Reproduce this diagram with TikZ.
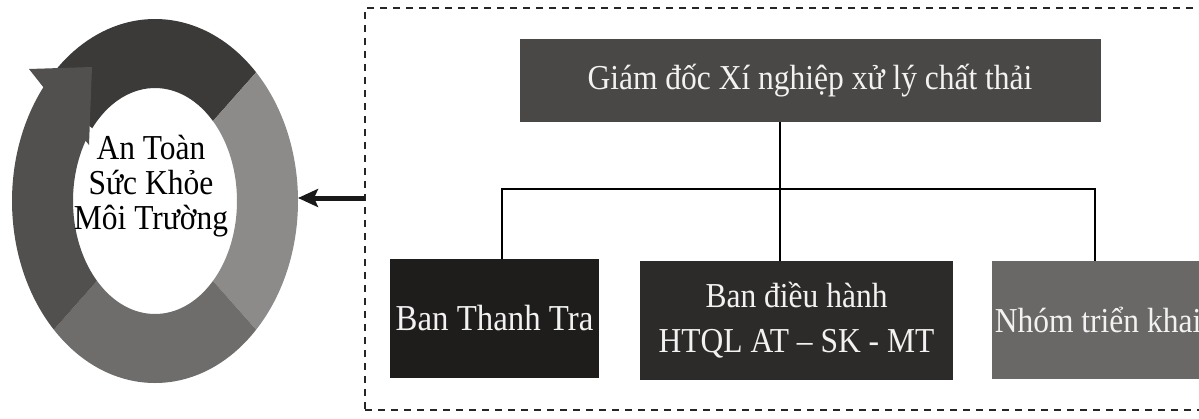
\documentclass[tikz,border=0pt]{standalone}
\usepackage{fontspec}
\setmainfont{Liberation Serif}
\newfontfamily\condfont{Liberation Serif}[FakeStretch=0.9]
\usetikzlibrary{arrows.meta}
\definecolor{segtop}{HTML}{3B3A39}
\definecolor{segright}{HTML}{8C8B8A}
\definecolor{segbot}{HTML}{6E6D6C}
\definecolor{segleft}{HTML}{51504F}
\definecolor{boxtop}{HTML}{4A4846}
\definecolor{boxone}{HTML}{1F1C1C}
\definecolor{boxtwo}{HTML}{2D2B2A}
\definecolor{boxthree}{HTML}{6A6866}
\definecolor{txtwhite}{HTML}{F2F2F2}
\begin{document}
\begin{tikzpicture}[x=1pt,y=-1pt,
  orgbox/.style={rectangle, inner sep=0pt, outer sep=0pt, text=txtwhite, align=center,
    font=\condfont\fontsize{35}{45}\selectfont},
  conn/.style={line width=2pt, black},
  frameline/.style={draw=black!85, line width=1.5pt, dash pattern=on 7pt off 6pt},
  bigarrow/.style={line width=5pt, black!90, -{Stealth[length=20pt,width=18pt,inset=4pt]}}]
\useasboundingbox (0,0) rectangle (1199,418);
\clip (0,0) rectangle (1199,418);
\fill[white] (0,0) rectangle (1199,418);

% ring
\begin{scope}[shift={(155,201)}]
  \fill[segtop] (-45:143 and 182) arc[start angle=-45,end angle=-140,x radius=143,y radius=182]
    -- (-140:82 and 113) arc[start angle=-140,end angle=-45,x radius=82,y radius=113] -- cycle;
  \fill[segright] (45:143 and 182) arc[start angle=45,end angle=-45,x radius=143,y radius=182]
    -- (-45:82 and 113) arc[start angle=-45,end angle=45,x radius=82,y radius=113] -- cycle;
  \fill[segbot] (135:143 and 182) arc[start angle=135,end angle=45,x radius=143,y radius=182]
    -- (45:82 and 113) arc[start angle=45,end angle=135,x radius=82,y radius=113] -- cycle;
  \fill[segleft] (135:143 and 182) arc[start angle=135,end angle=222,x radius=143,y radius=182]
    -- (214:82 and 113) arc[start angle=214,end angle=135,x radius=82,y radius=113] -- cycle;
  \fill[segleft] (-126,-132) -- (-63,-134) -- (-66,-56) -- cycle;
\end{scope}
\node[font=\condfont\fontsize{35}{35}\selectfont, align=center, inner sep=0pt] (ringtxt) at (151,186)
  {An Toàn\\Sức Khỏe\\Môi Trường};
\coordinate (ringE) at (298,198);

% frame
\node[frameline, rectangle, anchor=north west, inner sep=0pt, outer sep=0pt,
  minimum width=850pt, minimum height=402pt] (frame) at (365,8) {};

% org chart
\node[orgbox, fill=boxtop, minimum width=581pt, minimum height=83pt] (top) at (810,80.5)
  {Giám đốc Xí nghiệp xử lý chất thải};
\node[orgbox, fill=boxone, minimum width=209pt, minimum height=119pt] (b1) at (494.5,318.5)
  {\fontsize{36.5}{45}\selectfont Ban Thanh Tra};
\node[orgbox, fill=boxtwo, minimum width=313pt, minimum height=119pt] (b2) at (796.5,320.5)
  {Ban điều hành\\HTQL AT – SK - MT};
\node[orgbox, fill=boxthree, minimum width=212pt, minimum height=118pt] (b3) at (1098,320)
  {Nhóm triển khai};

\coordinate (j) at (780,189);
\coordinate (l) at (502,189);
\coordinate (r) at (1095,189);
\draw[conn] (top.south -| j) -- (j);
\draw[conn] (b1.north -| l) -- (l) -- (r) -- (r |- b3.north);
\draw[conn] (j) -- (j |- b2.north);

\draw[bigarrow] (ringE -| frame.west) -- (ringE);
\end{tikzpicture}
\end{document}
